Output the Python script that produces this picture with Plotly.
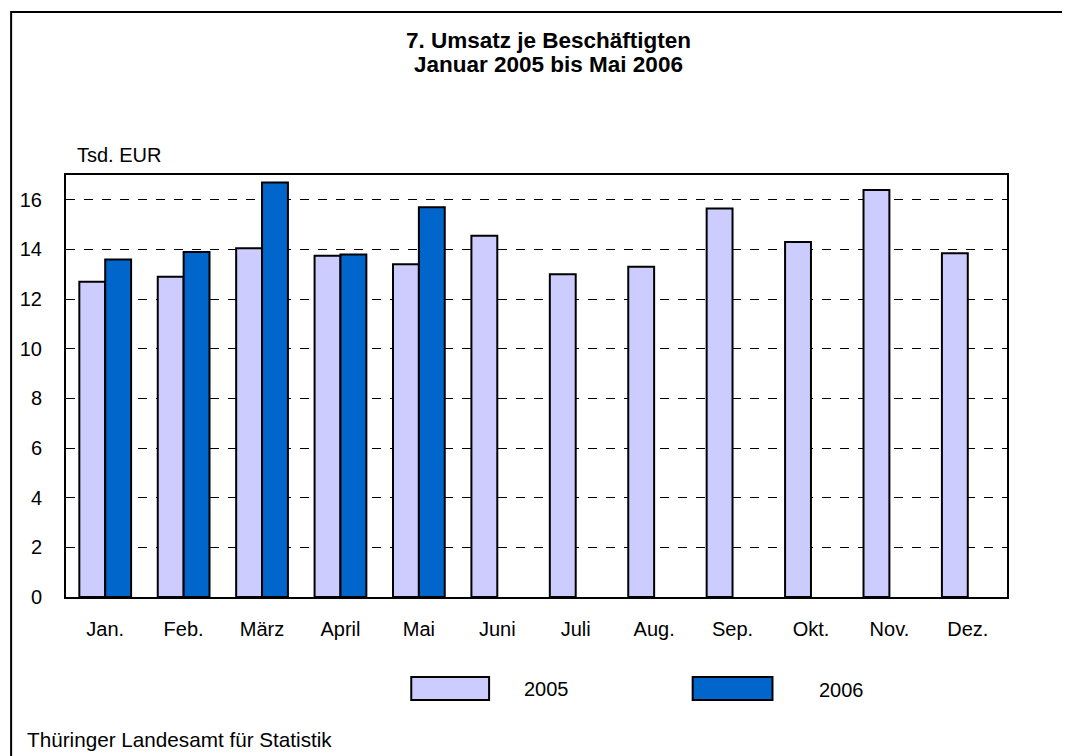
import plotly.graph_objects as go

months = ["Jan.", "Feb.", "März", "April", "Mai", "Juni", "Juli", "Aug.", "Sep.", "Okt.", "Nov.", "Dez."]
values_2005 = [12.7, 12.9, 14.05, 13.75, 13.4, 14.55, 13.0, 13.3, 15.65, 14.3, 16.4, 13.85]
values_2006 = [13.6, 13.9, 16.7, 13.8, 15.7, None, None, None, None, None, None, None]
y_ticks = [0, 2, 4, 6, 8, 10, 12, 14, 16]

FONT = "Liberation Sans, Arial, sans-serif"
C2005 = "#CCCCFF"
C2006 = "#0066CC"

fig = go.Figure()
fig.add_trace(go.Bar(x=months, y=values_2005, name="2005",
                     marker=dict(color=C2005, line=dict(color="black", width=2))))
fig.add_trace(go.Bar(x=months, y=values_2006, name="2006",
                     marker=dict(color=C2006, line=dict(color="black", width=2))))

# page has an 8px body margin: figure origin sits at (8, 8) on the page
fig.update_layout(
    width=1062, height=748,
    margin=dict(l=56, r=63, t=167, b=159),
    paper_bgcolor="white", plot_bgcolor="white",
    barmode="group", bargap=0.34, bargroupgap=0,
    showlegend=False,
    font=dict(family=FONT, size=20, color="black"),
    xaxis=dict(showline=True, linecolor="black", linewidth=2, mirror=True,
               ticks="", ticklabelstandoff=13, tickfont=dict(size=20),
               showgrid=False),
    yaxis=dict(range=[0, 17], tickvals=y_ticks, showline=True, linecolor="black",
               linewidth=2, mirror=True, ticks="", ticklabelstandoff=18,
               tickfont=dict(size=20), showgrid=True, gridcolor="black",
               griddash="dash", gridwidth=1, zeroline=False),
)


def px_x(v):
    return (v - 64) / 943


def px_y(v):
    return (597 - v) / 422


# outer frame
fig.add_shape(type="rect", xref="paper", yref="paper",
              x0=px_x(9), x1=1.2, y0=-0.6, y1=px_y(12),
              line=dict(color="black", width=2), fillcolor="rgba(0,0,0,0)", layer="below")

# titles
fig.add_annotation(text="<b>7. Umsatz je Beschäftigten</b>", xref="paper", yref="paper",
                   x=px_x(548), y=px_y(41), showarrow=False,
                   font=dict(size=22.5, family=FONT), xanchor="center", yanchor="middle")
fig.add_annotation(text="<b>Januar 2005 bis Mai 2006</b>", xref="paper", yref="paper",
                   x=px_x(548), y=px_y(64), showarrow=False,
                   font=dict(size=22.5, family=FONT), xanchor="center", yanchor="middle")
fig.add_annotation(text="Tsd. EUR", xref="paper", yref="paper",
                   x=px_x(73), y=px_y(155), showarrow=False,
                   font=dict(size=20, family=FONT), xanchor="left", yanchor="middle")
fig.add_annotation(text="Thüringer Landesamt für Statistik", xref="paper", yref="paper",
                   x=px_x(23), y=px_y(739), showarrow=False,
                   font=dict(size=20.7, family=FONT), xanchor="left", yanchor="middle")

# legend (manual)
fig.add_shape(type="rect", xref="paper", yref="paper",
              x0=px_x(410), x1=px_x(488), y0=px_y(700), y1=px_y(677),
              fillcolor=C2005, line=dict(color="black", width=2))
fig.add_shape(type="rect", xref="paper", yref="paper",
              x0=px_x(692), x1=px_x(772), y0=px_y(700), y1=px_y(677),
              fillcolor=C2006, line=dict(color="black", width=2))
fig.add_annotation(text="2005", xref="paper", yref="paper", x=px_x(521), y=px_y(689),
                   showarrow=False, xanchor="left", yanchor="middle",
                   font=dict(size=20, family=FONT))
fig.add_annotation(text="2006", xref="paper", yref="paper", x=px_x(817), y=px_y(690),
                   showarrow=False, xanchor="left", yanchor="middle",
                   font=dict(size=20, family=FONT))

fig.write_html("out.html")
